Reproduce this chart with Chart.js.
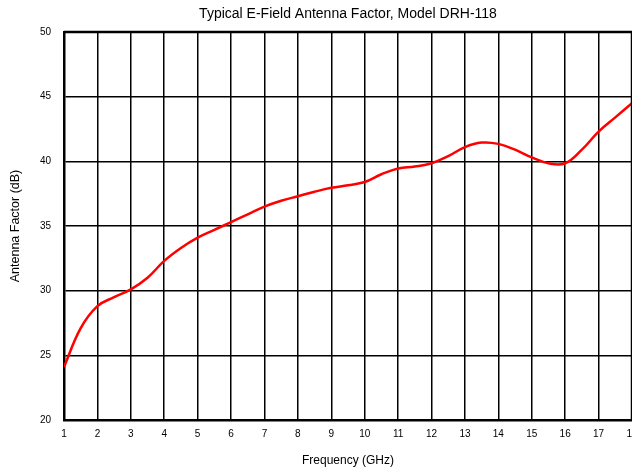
<!DOCTYPE html>
<html>
<head>
<meta charset="utf-8">
<script src="https://cdn.jsdelivr.net/npm/chart.js@4"></script>
<style>
  html, body { margin: 0; padding: 0; background: #fff; overflow: hidden; }
  #wrap { width: 632px; height: 469px; position: relative; }
</style>
</head>
<body>
<div id="wrap"><canvas id="c"></canvas></div>
<script>
const chartTitle = "Typical E-Field Antenna Factor, Model DRH-118";
const xTitle = "Frequency (GHz)";
const yTitle = "Antenna Factor (dB)";
const freqGHz = [1,1.5,2,2.5,3,3.5,4,4.5,5,5.5,6,6.5,7,7.5,8,8.5,9,9.5,10,10.5,11,11.5,12,12.5,13,13.5,14,14.5,15,15.5,16,16.5,17,17.5,18];
const antennaFactor = [24.1,27.1,28.8,29.5,30.1,31.0,32.3,33.3,34.1,34.7,35.3,35.9,36.5,36.95,37.3,37.65,37.95,38.15,38.4,39.0,39.45,39.6,39.85,40.4,41.1,41.45,41.35,40.9,40.3,39.85,39.85,40.9,42.3,43.4,44.5];
const xMin = 1, xMax = 18, xStep = 1;
const yMin = 20, yMax = 50, yStep = 5;

const points = freqGHz.map((f, i) => ({ x: f, y: antennaFactor[i] }));
const FONT = "'Liberation Sans', Arial, sans-serif";

new Chart(document.getElementById('c'), {
  type: 'line',
  data: {
    datasets: [{
      data: points,
      borderColor: '#ff0000',
      borderWidth: 2.5,
      pointRadius: 0,
      tension: 0.4,
      fill: false
    }]
  },
  options: {
    responsive: true,
    maintainAspectRatio: false,
    animation: false,
    layout: { padding: 0 },
    plugins: {
      legend: { display: false },
      tooltip: { enabled: false },
      title: {
        display: true,
        fullSize: false,
        text: chartTitle,
        color: '#000',
        font: { family: FONT, size: 14, weight: 'normal' },
        padding: { top: 5.6, bottom: 9.6 }
      }
    },
    scales: {
      x: {
        type: 'linear',
        min: xMin, max: xMax,
        afterFit(scale) { scale.height = 49; scale.paddingRight = 0; scale.paddingLeft = 0; },
        ticks: {
          stepSize: xStep,
          color: '#000',
          font: { family: FONT, size: 10 },
          padding: 8,
          maxRotation: 0,
          autoSkip: false
        },
        grid: { color: '#000', lineWidth: 1.5, drawTicks: false },
        border: { color: '#000', width: 2.5 },
        title: {
          display: true,
          text: xTitle,
          color: '#000',
          font: { family: FONT, size: 12 },
          padding: { top: 0, bottom: 1 }
        }
      },
      y: {
        type: 'linear',
        min: yMin, max: yMax,
        afterFit(scale) { scale.width = 64; scale.paddingTop = 0; scale.paddingBottom = 0; },
        ticks: {
          stepSize: yStep,
          color: '#000',
          font: { family: FONT, size: 10 },
          padding: 13
        },
        grid: { color: '#000', lineWidth: 1.5, drawTicks: false },
        border: { color: '#000', width: 2.5 },
        title: {
          display: true,
          text: yTitle,
          color: '#000',
          font: { family: FONT, size: 12.5 },
          padding: { top: 8, bottom: 0 }
        }
      }
    }
  },
  plugins: [{
    id: 'frame',
    afterDatasetsDraw(chart) {
      const a = chart.chartArea, ctx = chart.ctx;
      ctx.save();
      ctx.strokeStyle = '#000';
      ctx.lineWidth = 2.5;
      ctx.beginPath();
      ctx.moveTo(a.right, a.top);
      ctx.lineTo(a.right, a.bottom);
      ctx.moveTo(a.left, a.top);
      ctx.lineTo(a.right, a.top);
      ctx.stroke();
      ctx.restore();
    }
  }]
});
</script>
</body>
</html>
